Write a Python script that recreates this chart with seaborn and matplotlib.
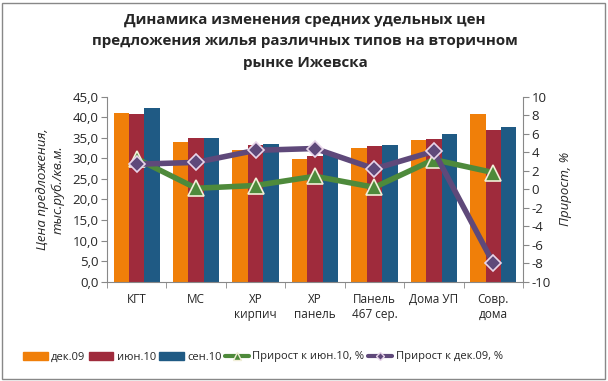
import numpy as np
import pandas as pd
import matplotlib
matplotlib.use("Agg")
import matplotlib.pyplot as plt
import seaborn as sns
from matplotlib.ticker import FuncFormatter, MultipleLocator, FixedLocator
from matplotlib.lines import Line2D
from matplotlib.patches import Patch, Rectangle

# данные
categories = ["КГТ", "МС", "ХР\nкирпич", "ХР\nпанель", "Панель\n467 сер.", "Дома УП", "Совр.\nдома"]
price_dec09 = [41.1, 34.0, 32.0, 29.9, 32.6, 34.5, 40.8]
price_jun10 = [40.8, 35.0, 33.3, 30.6, 33.1, 34.7, 36.9]
price_sep10 = [42.3, 35.0, 33.5, 31.1, 33.3, 36.0, 37.7]
growth_jun10 = [3.3, 0.1, 0.4, 1.4, 0.2, 3.2, 1.8]
growth_dec09 = [2.7, 2.9, 4.2, 4.4, 2.2, 4.1, -8.0]
periods = ["дек.09", "июн.10", "сен.10"]

bar_colors = ["#F07F09", "#9F2B3C", "#1F5A84"]
green = "#4E8A3B"
purple = "#5F497A"

sns.set_style("white")
plt.rcParams['font.family'] = ['Open Sans', 'DejaVu Sans']
plt.rcParams['axes.unicode_minus'] = False

df = pd.DataFrame({
    "cat": np.repeat(categories, 3),
    "period": periods * len(categories),
    "price": np.ravel(np.column_stack([price_dec09, price_jun10, price_sep10])),
})

fig = plt.figure(figsize=(6.08, 3.81), dpi=100)
ax = fig.add_axes([107 / 608, 1 - 281.7 / 381, (523 - 107) / 608, (281.7 - 96.7) / 381])

sns.barplot(data=df, x="cat", y="price", hue="period", palette=bar_colors,
            width=0.78, saturation=1, ax=ax, legend=False)
for p in ax.patches:
    p.set_edgecolor("none")

ax.set_xlim(-0.5, len(categories) - 0.5)
ax.set_ylim(0, 45)
ax.yaxis.set_major_locator(MultipleLocator(5))
ax.yaxis.set_major_formatter(FuncFormatter(lambda v, _: f"{v:.1f}".replace(".", ",")))
ax.set_xlabel("")
ax.set_ylabel("Цена предложения,\nтыс.руб./кв.м.", fontstyle="italic", fontsize=9.5, labelpad=6)
ax.tick_params(axis="y", direction="out", length=4, color="#888888", labelsize=9.5, pad=2, left=True)
ax.tick_params(axis="x", which="major", length=0, labelsize=8.5, pad=8)
ax.xaxis.set_minor_locator(FixedLocator(np.arange(-0.5, len(categories), 1)))
ax.tick_params(axis="x", which="minor", direction="out", length=4, color="#888888", bottom=True)
for s in ["top", "right"]:
    ax.spines[s].set_visible(False)
for s in ["left", "bottom"]:
    ax.spines[s].set_color("#888888")
    ax.spines[s].set_linewidth(0.8)

ax2 = ax.twinx()
x = np.arange(len(categories))
sns.lineplot(x=x, y=growth_jun10, ax=ax2, color=green, linewidth=4, marker="^",
             markersize=11, markerfacecolor=green, markeredgecolor="#F2EFD8", markeredgewidth=1.2)
sns.lineplot(x=x, y=growth_dec09, ax=ax2, color=purple, linewidth=4, marker="D",
             markersize=8, markerfacecolor=purple, markeredgecolor="#E8D5EA", markeredgewidth=1.2)
ax2.set_ylim(-10, 10)
ax2.yaxis.set_major_locator(MultipleLocator(2))
ax2.set_ylabel("Прирост, %", fontstyle="italic", fontsize=9.5, labelpad=6)
ax2.tick_params(axis="y", direction="out", length=4, color="#888888", labelsize=9.5, pad=2, right=True)
for s in ["top", "left", "bottom"]:
    ax2.spines[s].set_visible(False)
ax2.spines["right"].set_color("#888888")
ax2.spines["right"].set_linewidth(0.8)
ax.set_xlim(-0.5, len(categories) - 0.5)

fig.text(0.502, 0.967, "Динамика изменения средних удельных цен\nпредложения жилья различных типов на вторичном\nрынке Ижевска",
         ha="center", va="top", fontsize=10.9, fontweight="bold", linespacing=1.68)

handles = [Patch(color=c) for c in bar_colors] + [
    Line2D([], [], color=green, lw=3, marker="^", markersize=6, markerfacecolor=green, markeredgecolor="#F2EFD8"),
    Line2D([], [], color=purple, lw=3, marker="D", markersize=4, markerfacecolor=purple, markeredgecolor="#E8D5EA"),
]
labels = periods + ["Прирост к июн.10, %", "Прирост к дек.09, %"]
fig.legend(handles, labels, loc="center", bbox_to_anchor=(263 / 608, 1 - 357 / 381), ncol=5, frameon=False,
           fontsize=8, handlelength=2.2, handletextpad=0.3, columnspacing=0.3, borderaxespad=0)

fig.patches.append(Rectangle((2 / 608, 2 / 381), 603 / 608, 376 / 381, transform=fig.transFigure,
                             fill=False, edgecolor="#888888", linewidth=1))

fig.savefig("out.png", dpi=100)
